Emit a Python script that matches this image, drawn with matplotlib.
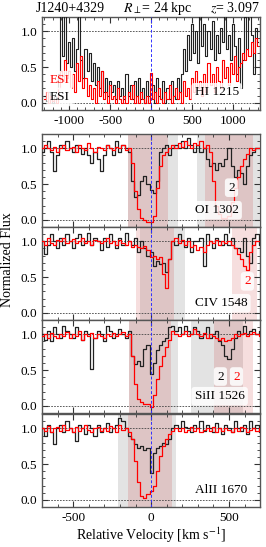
import numpy as np
import matplotlib
matplotlib.use('Agg')
import matplotlib.pyplot as plt
from matplotlib.ticker import MultipleLocator

plt.rcParams['font.family'] = 'Liberation Serif'
plt.rcParams['mathtext.fontset'] = 'stix'
plt.rcParams['axes.unicode_minus'] = False

# ---------------------------------------------------------------
# Espectros (píxeles de 25 km/s arriba, 20 abajo)
# ---------------------------------------------------------------
HI_V0, HI_DV = -1300, 25
hi_black = [0.10, 0.02, 0.15, 0.05, 0.00, 0.10, 0.05, 0.40, 1.25, 0.65,
            1.25, 0.55, 0.85, 0.50, 0.90, 0.45, 0.75, 1.25, 0.60, 0.35,
            0.75, 0.45, 0.70, 0.30, 0.55, 0.25, 0.50, 0.20, 0.45, 0.15,
            0.35, 0.10, 0.30, 0.15, 0.25, 0.05, 0.30, 0.10, 0.20, 0.05,
            0.40, 0.10, 0.25, 0.05, 0.30, 0.10, 0.35, 0.05, 0.20, 0.00,
            0.30, 0.10, 0.05, 0.25, 0.00, 0.35, 0.10, 0.05, 0.30, 0.00,
            0.20, 0.05, 0.30, 0.10, 0.05, 0.35, 0.15, 0.40, 0.75, 0.45,
            0.95, 0.60, 1.10, 0.70, 1.00, 0.55, 1.25, 0.80, 1.10, 0.65,
            1.00, 0.75, 1.15, 0.60, 0.95, 0.70, 1.05, 0.85, 1.25, 0.75,
            0.95, 0.60, 1.10, 0.80, 0.40, 0.90, 0.20, 0.60, 1.20, 0.75,
            1.25, 0.95, 0.40, 1.05, 0.85]
hi_red = [0.05, 0.15, 0.00, 0.10, 0.02, 0.05, 0.00, 0.20, 0.45, 0.30,
          0.60, 0.35, 0.45, 0.20, 0.40, 0.15, 0.55, 0.30, 0.65, 0.20,
          0.35, 0.10, 0.25, 0.05, 0.20, 0.00, 0.30, 0.10, 0.45, 0.05,
          0.15, 0.00, 0.25, 0.05, 0.10, 0.00, 0.20, 0.05, 0.00, 0.10,
          0.00, 0.15, 0.05, 0.25, 0.00, 0.10, 0.00, 0.15, 0.05, 0.00,
          0.10, 0.00, 0.42, 0.05, 0.15, 0.00, 0.20, 0.05, 0.00, 0.15,
          0.05, 0.25, 0.00, 0.10, 0.20, 0.05, 0.15, 0.00, 0.30, 0.10,
          0.20, 0.05, 0.35, 0.15, 0.45, 0.20, 0.30, 0.10, 0.40, 0.15,
          0.55, 0.25, 0.40, 0.15, 0.50, 0.30, 0.20, 0.60, 0.35, 0.50,
          0.25, 0.55, 0.40, 0.65, 0.30, 0.50, 0.55, 0.70, 0.60, 0.75,
          0.65, 0.85, 0.70, 0.90, 0.80]

V0, DV = -700, 20
oi_black = [0.95, 1.00, 1.10, 0.95, 0.68, 0.90, 1.05, 1.00, 1.10, 1.00,
            0.95, 1.05, 1.00, 0.92, 1.00, 0.90, 0.80, 0.95, 0.85, 0.68,
            0.90, 1.05, 1.00, 0.90, 1.10, 0.95, 1.05, 1.00, 0.95, 0.55,
            0.32, 0.35, 0.55, 0.62, 0.50, 0.42, 0.38, 0.55, 0.95, 1.00,
            1.05, 0.90, 1.00, 1.05, 1.00, 1.10, 1.00, 1.15, 1.05, 0.95,
            1.05, 0.95, 1.00, 0.85, 0.75, 0.80, 0.70, 0.80, 0.75, 0.85,
            1.00, 0.75, 0.60, 0.70, 0.65, 0.50, 0.75, 0.90, 0.95, 1.00,
            1.00]
oi_red = [1.00, 1.05, 1.00, 0.98, 1.02, 0.95, 1.00, 1.05, 0.98, 1.00,
          1.02, 0.95, 1.05, 1.00, 0.97, 1.08, 1.00, 0.95, 1.02, 1.00,
          0.98, 1.05, 1.00, 0.97, 1.02, 1.00, 1.05, 0.98, 1.00, 0.80,
          0.40, 0.15, 0.02, 0.00, -0.03, -0.03, 0.05, 0.45, 0.75, 0.90,
          0.95, 1.00, 1.05, 1.00, 1.08, 1.02, 1.10, 1.05, 1.00, 1.08,
          1.05, 1.10, 1.00, 1.05, 0.95, 0.55, 0.20, 0.08, 0.03, 0.02,
          0.05, 0.25, 0.45, 0.60, 0.75, 0.85, 0.92, 1.00, 0.98, 1.00,
          1.00]

civ_black = [1.00, 0.82, 0.95, 1.10, 1.00, 0.90, 1.05, 0.95, 1.10, 1.00,
             0.90, 1.05, 1.10, 0.95, 1.00, 1.12, 0.95, 1.05, 1.00, 0.88,
             1.05, 0.92, 1.10, 1.00, 0.90, 1.05, 0.95, 1.12, 1.00, 0.95,
             1.05, 0.85, 1.00, 0.90, 0.80, 0.85, 0.65, 0.72, 0.68, 0.70,
             0.57, 0.75, 1.00, 0.95, 1.10, 1.00, 0.92, 1.05, 0.85, 1.00,
             1.00, 1.05, 0.65, 1.10, 1.00, 0.90, 1.05, 1.00, 0.95, 1.10,
             0.95, 1.05, 0.90, 0.90, 0.85, 1.05, 0.80, 0.70, 1.05, 1.10,
             0.95]
civ_red = [1.00, 0.95, 1.05, 0.98, 0.95, 1.02, 1.00, 1.05, 0.97, 1.00,
           1.03, 0.97, 1.00, 1.05, 0.98, 1.00, 0.95, 1.02, 1.00, 0.97,
           1.00, 1.05, 0.97, 1.00, 0.95, 1.02, 0.98, 0.95, 1.00, 0.92,
           0.95, 0.92, 0.90, 0.93, 0.88, 0.78, 0.80, 0.75, 0.78, 0.55,
           0.35, 0.75, 1.00, 1.05, 0.98, 1.02, 0.95, 1.00, 0.92, 0.95,
           0.88, 0.92, 0.85, 0.95, 1.00, 0.97, 1.02, 0.95, 1.00, 0.97,
           1.00, 0.95, 0.90, 0.82, 0.75, 0.65, 0.60, 0.85, 0.95, 1.00,
           1.00]

siii_black = [1.00, 0.92, 1.05, 0.90, 1.10, 1.00, 0.95, 1.12, 1.05, 1.00,
              0.95, 1.10, 1.00, 0.92, 1.05, 1.00, 0.52, 0.95, 1.05, 1.00,
              0.90, 1.12, 1.05, 0.95, 1.00, 1.08, 1.00, 0.95, 1.05, 0.70,
              0.58, 0.62, 0.55, 0.80, 0.85, 0.45, 0.60, 0.78, 0.85, 0.90,
              0.95, 1.10, 1.12, 1.05, 1.10, 1.00, 1.12, 1.05, 1.00, 1.10,
              1.05, 0.95, 1.00, 1.10, 0.95, 1.00, 1.05, 0.90, 0.85, 0.70,
              0.65, 0.80, 0.95, 1.05, 1.00, 1.12, 1.00, 1.05, 1.08, 1.00,
              1.05]
siii_red = [0.97, 1.00, 0.95, 1.02, 0.98, 0.95, 1.00, 0.97, 1.03, 0.95,
            1.00, 0.97, 1.05, 0.92, 1.00, 0.97, 1.02, 0.95, 1.00, 0.98,
            0.95, 1.00, 0.97, 1.02, 0.98, 1.00, 1.03, 0.97, 1.00, 0.70,
            0.30, 0.10, 0.05, 0.03, 0.02, -0.02, 0.15, 0.38, 0.55, 0.70,
            0.82, 0.92, 1.05, 1.00, 0.97, 1.00, 1.05, 0.98, 1.00, 1.07,
            1.00, 0.97, 1.02, 0.95, 1.00, 0.97, 0.95, 0.92, 0.95, 0.90,
            0.92, 0.95, 1.00, 0.97, 1.00, 1.02, 0.98, 1.00, 1.03, 1.00,
            0.97]

alii_black = [1.00, 0.90, 1.05, 0.95, 0.78, 1.00, 1.05, 0.95, 1.10, 1.00,
              0.95, 0.82, 1.05, 1.00, 0.92, 1.05, 1.00, 0.90, 1.05, 0.95,
              1.00, 1.08, 0.95, 1.00, 1.05, 1.15, 1.10, 1.00, 0.90, 0.85,
              0.78, 0.72, 0.75, 0.70, 0.72, 0.38, 0.65, 0.72, 0.75, 0.80,
              0.78, 0.85, 1.00, 1.05, 1.00, 1.10, 1.02, 1.00, 0.95, 1.05,
              1.00, 1.10, 0.97, 1.05, 1.00, 0.95, 1.08, 1.00, 0.92, 1.05,
              1.00, 0.95, 1.10, 1.00, 0.97, 1.05, 0.92, 1.10, 1.00, 1.05,
              0.95]
alii_red = [1.00, 0.97, 1.03, 0.95, 1.00, 1.02, 0.97, 1.05, 0.98, 1.00,
            0.95, 1.02, 0.97, 1.00, 1.05, 0.98, 0.95, 1.00, 1.02, 0.97,
            1.00, 0.97, 1.03, 1.00, 0.95, 1.05, 0.98, 1.00, 0.95, 0.85,
            0.55, 0.25, 0.05, 0.02, 0.08, 0.12, 0.20, 0.40, 0.62, 0.75,
            0.85, 0.92, 0.97, 1.00, 0.97, 1.00, 0.95, 0.98, 1.02, 0.97,
            1.00, 0.95, 0.98, 1.00, 0.97, 1.02, 0.95, 1.00, 0.97, 1.00,
            0.98, 0.95, 1.00, 0.97, 1.02, 1.00, 0.95, 0.98, 1.00, 0.97,
            1.00]

# intervalos de integración (gris = negro, rojo = ESI rojo)
oi_gray = [(-146, 175), (297, 690)]
oi_redspan = [(-146, 111), (349, 651)]
civ_gray = [(-69, 220)]
civ_redspan = [(-100, 150), (520, 680)]
siii_gray = [(-139, 175), (253, 587)]
siii_redspan = [(-139, 131), (401, 651)]
alii_gray = [(-215, 160)]
alii_redspan = [(-150, 135)]

# etiquetas "2" (velocidad, flujo, color)
oi_marks = [(516, 0.45, 'black')]
civ_marks = [(618, 0.44, 'red')]
siii_marks = [(445, 0.41, 'black'), (548, 0.41, 'red')]
alii_marks = []

paneles = [
    ('OI 1302', oi_black, oi_red, oi_gray, oi_redspan, oi_marks),
    ('CIV 1548', civ_black, civ_red, civ_gray, civ_redspan, civ_marks),
    ('SiII 1526', siii_black, siii_red, siii_gray, siii_redspan, siii_marks),
    ('AlII 1670', alii_black, alii_red, alii_gray, alii_redspan, alii_marks),
]

FS = 9.5
CAJA = dict(boxstyle='round,pad=0.25', fc='white', ec='none', alpha=0.85)


def estilo_ejes(ax):
    ax.set_ylim(-0.1, 1.2)
    ax.yaxis.set_major_locator(MultipleLocator(0.5))
    ax.yaxis.set_minor_locator(MultipleLocator(0.1))
    ax.tick_params(which='both', direction='in', top=True, right=True,
                   labelsize=FS, color='#333333')
    ax.tick_params(which='major', length=4)
    ax.tick_params(which='minor', length=2)
    for s in ax.spines.values():
        s.set_color('#555555')
        s.set_linewidth(1.0)
    ax.axhline(1.0, color='#444444', ls=(0, (2, 1.5)), lw=0.6, zorder=1)
    ax.axhline(0.0, color='#444444', ls=(0, (2, 1.5)), lw=0.6, zorder=1)
    ax.axvline(0.0, color='#3030ff', ls=(0, (3, 2)), lw=0.7, zorder=5)


def espectro(ax, v0, dv, negro, rojo, lw=0.9):
    vb = v0 + dv * np.arange(len(negro))
    vr = v0 + dv * np.arange(len(rojo))
    ax.step(vb, negro, where='mid', color='#222222', lw=lw, zorder=3)
    ax.step(vr, rojo, where='mid', color='red', lw=lw, zorder=3)


fig = plt.figure(figsize=(2.66, 5.47), dpi=100)

# ---- panel HI ----
ax0 = fig.add_axes([0.158, 0.799, 0.820, 0.170])
espectro(ax0, HI_V0, HI_DV, hi_black, hi_red, lw=0.8)
estilo_ejes(ax0)
ax0.set_xlim(-1330, 1330)
ax0.xaxis.set_major_locator(MultipleLocator(500))
ax0.xaxis.set_minor_locator(MultipleLocator(100))
ax0.set_xticks([-1000, -500, 0, 500, 1000])
ax0.text(0.70, 0.19, 'HI 1215', transform=ax0.transAxes, fontsize=FS,
         ha='left', va='center', bbox=CAJA, zorder=6)
ax0.text(0.035, 0.32, 'ESI', transform=ax0.transAxes, fontsize=FS,
         color='red', ha='left', va='center', bbox=CAJA, zorder=6)
ax0.text(0.035, 0.14, 'ESI', transform=ax0.transAxes, fontsize=FS,
         color='black', ha='left', va='center', bbox=CAJA, zorder=6)

fig.text(0.135, 0.985, 'J1240+4329', fontsize=FS + 0.5, ha='left', va='center')
fig.text(0.592, 0.985, r'$R_{\perp}$= 24 kpc', fontsize=FS + 0.5, ha='center', va='center')
fig.text(0.977, 0.985, r'$z$= 3.097', fontsize=FS + 0.5, ha='right', va='center')

# ---- paneles de metales ----
bases = [0.585, 0.415, 0.245, 0.073]
for k, (nombre, negro, rojo, grises, rojos, marcas) in enumerate(paneles):
    ax = fig.add_axes([0.158, bases[k], 0.820, 0.170])
    for lo, hi in grises:
        ax.axvspan(lo, hi, color='0.5', alpha=0.22, lw=0, zorder=0)
    for lo, hi in rojos:
        ax.axvspan(lo, hi, color='#c00000', alpha=0.13, lw=0, zorder=0)
    espectro(ax, V0, DV, negro, rojo)
    estilo_ejes(ax)
    ax.set_xlim(-700, 700)
    ax.xaxis.set_major_locator(MultipleLocator(500))
    ax.xaxis.set_minor_locator(MultipleLocator(100))
    ax.text(0.70, 0.18, nombre, transform=ax.transAxes, fontsize=FS,
            ha='left', va='center', bbox=CAJA, zorder=6)
    for vm, fm, cm in marcas:
        ax.text(vm, fm, '2', color=cm, fontsize=FS, ha='center', va='center',
                bbox=CAJA, zorder=6)
    if k < len(paneles) - 1:
        ax.tick_params(labelbottom=False)
    else:
        ax.set_xlabel(r'Relative Velocity [km s$^{-1}$]', fontsize=FS + 0.5, labelpad=1)

fig.text(0.03, 0.525, 'Normalized Flux', fontsize=FS + 0.5, rotation=90,
         ha='center', va='center')

fig.savefig('out.png', dpi=100)
